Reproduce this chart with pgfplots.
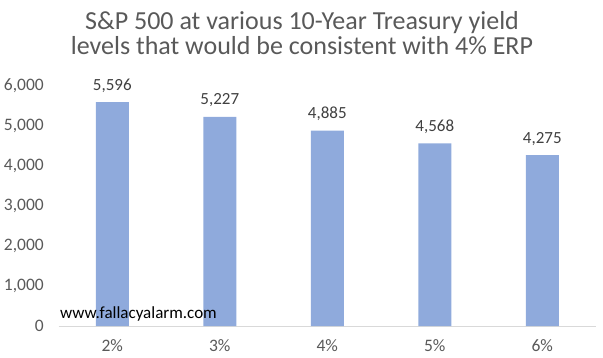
\documentclass[border=0pt]{standalone}
\usepackage{pgfplots}
\pgfplotsset{compat=1.18}
\usepackage{fontspec}
\setmainfont{Carlito}
\definecolor{barblue}{HTML}{8FAADC}
\definecolor{ticktxt}{HTML}{595959}
\definecolor{lbltxt}{HTML}{404040}
\definecolor{axisgray}{HTML}{D9D9D9}
\begin{document}
\begin{tikzpicture}[x=1pt,y=1pt]
\useasboundingbox (0,0) rectangle (603,357);
\begin{axis}[
  at={(58.5pt,31pt)}, anchor=south west,
  scale only axis, width=537.5pt, height=240pt,
  xmin=-0.5, xmax=4.5, ymin=0, ymax=6000,
  xtick={0,1,2,3,4}, xticklabels={2\%,3\%,4\%,5\%,6\%},
  ytick=\empty,
  axis x line*=bottom, axis y line=none,
  x axis line style={draw=axisgray, line width=1pt},
  major tick length=0pt,
  x tick label style={font=\fontsize{17.5}{20}\selectfont, color=ticktxt, anchor=north, inner sep=0pt, yshift=-13pt},
  ybar, bar width=33pt,
  nodes near coords,
  nodes near coords style={font=\fontsize{17}{20}\selectfont, color=lbltxt, anchor=base, inner sep=0pt, yshift=12pt,
    /pgf/number format/.cd, fixed, 1000 sep={,}, assume math mode=true},
  clip=false,
]
\addplot[fill=barblue, draw=none] coordinates {(0,5596) (1,5227) (2,4885) (3,4568) (4,4275)};
\end{axis}
\foreach \v/\t in {0/0,1000/{1,000},2000/{2,000},3000/{3,000},4000/{4,000},5000/{5,000},6000/{6,000}}{
  \node[anchor=east, inner sep=0pt, font=\fontsize{17.5}{20}\selectfont, text=ticktxt] at (44, {31+\v*0.04}) {\t};
}
\node[anchor=base, font=\fontsize{26}{30}\selectfont, text=ticktxt] at (302, 327.5) {S\&P 500 at various 10-Year Treasury yield};
\node[anchor=base, font=\fontsize{26}{30}\selectfont, text=ticktxt] at (302, 302) {levels that would be consistent with 4\% ERP};
\node[anchor=base west, inner sep=0pt, font=\fontsize{17}{20}\selectfont, text=black] at (60, 39) {www.fallacyalarm.com};
\end{tikzpicture}
\end{document}
